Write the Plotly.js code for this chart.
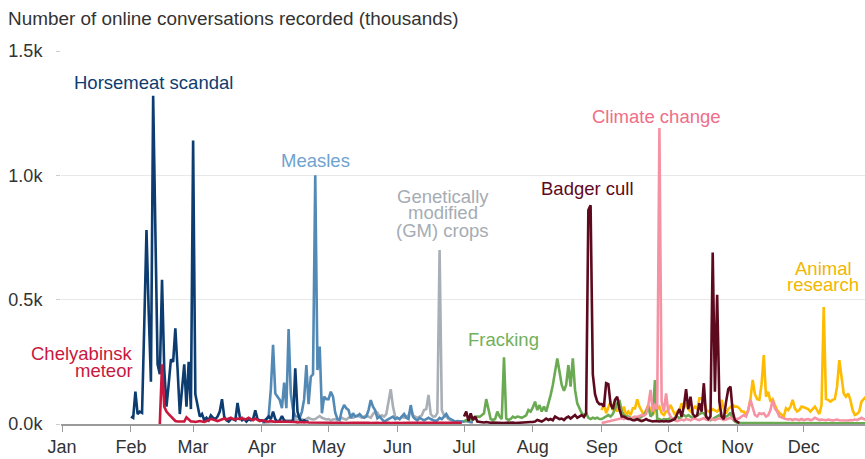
<!DOCTYPE html>
<html><head><meta charset="utf-8">
<script src="https://cdn.plot.ly/plotly-3.0.1.min.js"></script>
<style>html,body{margin:0;padding:0;background:#fff;}#chart{width:865px;height:459px;}</style>
</head><body><div id="chart"></div>
<script>
// ---------------- DATA (thousands of conversations per day) ----------------
const seriesNames = ['Horsemeat scandal','Chelyabinsk meteor','Measles','Genetically modified (GM) crops','Fracking','Badger cull','Climate change','Animal research'];
const monthLabels = ['Jan','Feb','Mar','Apr','May','Jun','Jul','Aug','Sep','Oct','Nov','Dec'];
const yTickValues = [0, 0.5, 1.0, 1.5];
const yTickLabels = ['0.0k','0.5k','1.0k','1.5k'];

const horsemeatStart = '2013-02-01';
const horsemeat = [
 0.03,0.025,0.13,0.04,0.05,0.045,0.40,0.78,0.45,0.17,1.32,0.72,0.24,0.20,0.58,0.22,0.07,0.16,0.26,0.25,0.385,0.22,0.04,0.14,0.24,0.07,0.25,0.06,
 1.14,0.12,0.07,0.03,0.04,0.015,0.025,0.015,0.035,0.025,0.02,0.03,0.05,0.10,0.03,0.015,0.01,0.02,0.02,0.015,0.085,0.03,0.015,0.02,0.01,0.02,0.015,0.02,0.055,0.02,0.015,
 0.015,0.01,0.02,0.03,0.02,0.05,0.02,0.01,0.015,0.032,0.015,0.01,0.01,0.01,0.015,0.224,0.05,0.02,0.01,0.015,0.01,0.01];

const meteorStart = '2013-02-14';
const meteor = [
 0,0.24,0.07,0.05,0.04,0.03,0.02,0.012,0.01,0.01,0.012,0.01,0.027,0.02,0.01,
 0.01,0.008,0.01,0.012,0.01,0.008,0.012,0.015,0.02,0.018,0.015,0.012,0.015,0.02,0.022,0.018,0.02,0.025,0.02,0.018,0.022,0.02,0.025,0.018,0.02,0.025,0.02,0.015,0.022,0.018,0.012,
 0.015,0.012,0.01,0.01,0.012,0.01,0.008,0.01,0.01,0.008,0.008,0.01,0.008,0.008,0.01,0.008,0.006,0.008,0.008,0.006,0.008,0.006,0.006,0.008,0.006,0.006,0.006,0.008,0.006,0.006,
 0.005,0.006,0.005,0.005,0.006,0.005,0.005,0.004,0.005,0.005,0.006,0.005,0.005,0.004,0.005,0.005,0.005,0.006,0.005,0.004,0.005,0.005,0.005,0.004,0.005,0.005,0.006,0.005,0.004,0.005,0.005,
 0.005,0.004,0.005,0.005,0.004,0.005,0.005,0.005,0.004,0.005,0.005,0.004,0.005,0.005,0.005,0.004,0.005,0.005,0.004,0.005,0.005,0.004,0.005,0.005,0.004,0.005,0.005,0.004,0.005,0.005];

const measlesStart = '2013-04-01';
const measles = [
 0.01,0.015,0.02,0.03,0.14,0.318,0.123,0.11,0.097,0.064,0.166,0.064,0.382,0.12,0.058,0.031,0.03,0.025,0.05,0.10,0.237,0.08,0.19,0.2,1.0,0.217,0.311,0.043,0.11,0.1,
 0.10,0.13,0.11,0.045,0.02,0.016,0.056,0.076,0.063,0.056,0.023,0.043,0.03,0.032,0.04,0.03,0.025,0.03,0.056,0.096,0.07,0.055,0.023,0.03,0.02,0.01,0.015,0.02,0.025,0.03,0.02,
 0.025,0.02,0.03,0.04,0.025,0.02,0.076,0.03,0.02,0.015,0.025,0.02,0.015,0.02,0.025,0.02,0.015,0.012,0.015,0.025,0.02,0.03,0.04,0.025,0.02,0.015,0.01,0.012,0.01,0.01,
 0.01,0.015,0.01,0.01,0.008];

const gmStart = '2013-04-01';
const gmCrops = [
 0.005,0.005,0.006,0.006,0.008,0.008,0.01,0.01,0.012,0.01,0.012,0.015,0.015,0.012,0.015,0.02,0.015,0.018,0.02,0.015,0.02,0.025,0.02,0.018,0.02,0.025,0.032,0.025,0.02,0.018,
 0.02,0.015,0.018,0.02,0.015,0.02,0.025,0.02,0.018,0.025,0.03,0.025,0.03,0.035,0.03,0.025,0.03,0.035,0.03,0.025,0.04,0.05,0.045,0.03,0.035,0.03,0.04,0.09,0.14,0.07,0.03,
 0.025,0.02,0.03,0.025,0.03,0.035,0.056,0.035,0.03,0.025,0.03,0.035,0.056,0.06,0.117,0.04,0.03,0.03,0.045,0.70,0.056,0.035,0.03,0.02,0.015,0.012,0.01,0.01,0.01,0.008,
 0.01,0.008,0.01,0.006,0.005];

const frackingStart = '2013-07-01';
const fracking = [
 0.01,0.016,0.015,0.02,0.018,0.029,0.03,0.029,0.035,0.043,0.10,0.06,0.02,0.016,0.02,0.05,0.03,0.02,0.268,0.022,0.016,0.02,0.03,0.025,0.03,0.028,0.025,0.03,0.035,0.056,0.05,
 0.067,0.09,0.056,0.076,0.05,0.07,0.05,0.08,0.116,0.157,0.217,0.264,0.21,0.157,0.134,0.157,0.237,0.15,0.264,0.137,0.083,0.06,0.043,0.035,0.043,0.025,0.02,0.025,0.022,0.025,0.02,
 0.02,0.025,0.03,0.036,0.03,0.04,0.06,0.083,0.097,0.05,0.036,0.03,0.03,0.025,0.02,0.025,0.02,0.025,0.03,0.035,0.05,0.07,0.03,0.04,0.177,0.02,0.02,0.015,0.02,0.018,
 0.02,0.023,0.02,0.025,0.03,0.023,0.03,0.036,0.03,0.036,0.03,0.025,0.03,0.035,0.04,0.045,0.043,0.03,0.02,0.015,0.02,0.025,0.03,0.036,0.03,0.025,0.03,0.035,0.046,0.02,0.01,
 0.005,0.004,0.004,0.003,0.004,0.003,0.004,0.004,0.003,0.004,0.003,0.004,0.004,0.003,0.004,0.003,0.004,0.004,0.003,0.004,0.004,0.003,0.004,0.003,0.004,0.004,0.003,0.004,0.003,0.004,
 0.004,0.003,0.004,0.004,0.003,0.004,0.003,0.004,0.004,0.003,0.004,0.004,0.003,0.004,0.003,0.004,0.004,0.003,0.004,0.003,0.004,0.004,0.003,0.004,0.004,0.003,0.004,0.003,0.004,0.004,0.003];

const badgerStart = '2013-07-01';
const badgerCull = [
 0.03,0.05,0.012,0.043,0.016,0.03,0.01,0.008,0.008,0.006,0.008,0.006,0.005,0.006,0.005,0.004,0.006,0.005,0.004,0.005,0.006,0.005,0.006,0.004,0.005,0.006,0.007,0.006,0.008,0.01,0.008,
 0.008,0.01,0.016,0.012,0.01,0.015,0.022,0.016,0.02,0.015,0.03,0.025,0.02,0.022,0.016,0.025,0.03,0.022,0.03,0.036,0.025,0.03,0.036,0.028,0.043,0.86,0.88,0.2,0.12,0.09,0.08,
 0.08,0.07,0.164,0.16,0.08,0.06,0.097,0.11,0.06,0.03,0.03,0.025,0.02,0.02,0.015,0.015,0.02,0.015,0.012,0.015,0.02,0.015,0.012,0.01,0.012,0.01,0.01,0.012,0.01,0.012,
 0.01,0.012,0.015,0.02,0.04,0.06,0.03,0.07,0.14,0.06,0.11,0.04,0.03,0.035,0.083,0.05,0.164,0.03,0.02,0.03,0.69,0.13,0.52,0.09,0.03,0.02,0.088,0.14,0.15,0.05,0.015,
 0.008,0.004];

const climateStart = '2013-09-01';
const climateChange = [
 0.004,0.006,0.01,0.01,0.012,0.014,0.016,0.018,0.02,0.023,0.02,0.023,0.025,0.022,0.025,0.03,0.028,0.032,0.036,0.034,0.04,0.076,0.137,0.05,0.08,0.06,1.19,0.09,0.05,0.123,
 0.05,0.03,0.02,0.015,0.012,0.015,0.018,0.015,0.02,0.018,0.015,0.02,0.022,0.018,0.016,0.02,0.023,0.018,0.016,0.02,0.018,0.016,0.02,0.023,0.02,0.016,0.018,0.02,0.025,0.02,0.016,
 0.02,0.023,0.03,0.036,0.03,0.056,0.097,0.063,0.036,0.03,0.043,0.04,0.043,0.03,0.035,0.056,0.097,0.063,0.05,0.03,0.025,0.023,0.02,0.018,0.02,0.016,0.02,0.018,0.016,0.02,
 0.016,0.018,0.02,0.016,0.018,0.025,0.02,0.016,0.018,0.016,0.015,0.018,0.016,0.014,0.016,0.018,0.015,0.014,0.016,0.015,0.014,0.016,0.015,0.018,0.016,0.02,0.025,0.02,0.018,0.02,0.02];

const animalStart = '2013-09-01';
const animalResearch = [
 0.056,0.083,0.043,0.067,0.09,0.056,0.083,0.05,0.076,0.043,0.07,0.036,0.05,0.036,0.063,0.063,0.099,0.07,0.05,0.036,0.056,0.076,0.056,0.036,0.056,0.06,0.07,0.043,0.036,0.05,
 0.056,0.076,0.056,0.036,0.05,0.056,0.083,0.063,0.083,0.06,0.05,0.06,0.07,0.06,0.103,0.103,0.097,0.06,0.05,0.05,0.06,0.055,0.05,0.06,0.097,0.06,0.043,0.06,0.07,0.076,0.07,
 0.07,0.063,0.05,0.05,0.036,0.056,0.1,0.177,0.12,0.1,0.097,0.16,0.277,0.11,0.13,0.09,0.1,0.076,0.056,0.045,0.036,0.03,0.063,0.056,0.07,0.097,0.063,0.05,0.056,0.07,
 0.067,0.063,0.06,0.05,0.06,0.07,0.056,0.04,0.076,0.47,0.1,0.097,0.09,0.097,0.1,0.15,0.257,0.177,0.123,0.11,0.123,0.097,0.056,0.036,0.04,0.05,0.09,0.1,0.11,0.1,0.09];

// ---------------- STYLE ----------------
const FONT = '"Liberation Sans", Arial, Helvetica, sans-serif';
function dailyDates(start, n) {
  const [y, m, d] = start.split('-').map(Number);
  const out = [];
  for (let i = 0; i < n; i++) {
    const dt = new Date(Date.UTC(y, m - 1, d + i));
    out.push(dt.toISOString().slice(0, 10));
  }
  return out;
}
function line(name, start, vals, color) {
  return {type: 'scatter', mode: 'lines', name: name, x: dailyDates(start, vals.length), y: vals,
          line: {color: color, width: 2.6}, hoverinfo: 'skip'};
}
// drawing order (first = bottom)
const traces = [
  line(seriesNames[3], gmStart, gmCrops, '#a9afb6'),
  line(seriesNames[2], measlesStart, measles, '#5289b5'),
  line(seriesNames[0], horsemeatStart, horsemeat, '#0c3c70'),
  line(seriesNames[1], meteorStart, meteor, '#c9173d'),
  line(seriesNames[7], animalStart, animalResearch, '#ffbb00'),
  line(seriesNames[4], frackingStart, fracking, '#6aaa52'),
  line(seriesNames[6], climateStart, climateChange, '#f592a3'),
  line(seriesNames[5], badgerStart, badgerCull, '#5d0a1e')
];

const W = 865, H = 459, ML = 61, MR = 0, MT = 51, MB = 35;
const px = x => (x - ML) / (W - ML - MR);
const py = y => (H - MB - y) / (H - MT - MB);
function lab(text, x, y, color, anchor) {
  return {text: text, xref: 'paper', yref: 'paper', x: px(x), y: py(y), xanchor: anchor || 'center', yanchor: 'middle',
          showarrow: false, font: {family: FONT, size: 18.5, color: color}};
}
const annotations = [
  lab('Horsemeat scandal', 153, 82, '#0c3c70'),
  lab('Chelyabinsk', 135, 353, '#c9173d', 'right'),
  lab('meteor', 135, 370, '#c9173d', 'right'),
  lab('Measles', 315.5, 160, '#6fa3cf'),
  lab('Genetically', 442.5, 196, '#a5acb4'),
  lab('modified', 442.5, 213, '#a5acb4'),
  lab('(GM) crops', 442.5, 230, '#a5acb4'),
  lab('Fracking', 503.7, 339.5, '#72b05a'),
  lab('Badger cull', 587.5, 188.5, '#5d0a1e'),
  lab('Climate change', 656.5, 116, '#f06e88'),
  lab('Animal', 823.5, 268, '#f2b600'),
  lab('research', 823.3, 284, '#f2b600')
];

const layout = {
  width: W, height: H,
  margin: {l: ML, r: MR, t: MT, b: MB, pad: 0},
  paper_bgcolor: '#ffffff', plot_bgcolor: '#ffffff',
  showlegend: false, hovermode: false,
  font: {family: FONT, size: 18, color: '#333333'},
  title: {text: 'Number of online conversations recorded (thousands)', xref: 'container', yref: 'container',
          x: 8 / W, xanchor: 'left', y: 1 - 18 / H, yanchor: 'middle',
          font: {family: FONT, size: 18.9, color: '#333333'}},
  xaxis: {type: 'date', range: ['2012-12-31 12:00', '2013-12-28 14:00'],
          tickvals: monthLabels.map((m, i) => '2013-' + String(i + 1).padStart(2, '0') + '-01'),
          ticktext: monthLabels,
          ticks: 'outside', ticklen: 6, tickwidth: 1, tickcolor: '#9a9a9a',
          showline: true, linecolor: '#9a9a9a', linewidth: 1.5, layer: 'below traces',
          showgrid: false, zeroline: false, fixedrange: true,
          tickfont: {family: FONT, size: 18, color: '#333333'}},
  yaxis: {range: [0, 1.5], tickvals: yTickValues, ticktext: yTickLabels,
          ticks: 'outside', ticklen: 4, tickwidth: 1, tickcolor: '#cccccc', ticklabelstandoff: 10,
          showline: false, showgrid: true, gridcolor: '#e8e8e8', gridwidth: 1, zeroline: false, fixedrange: true,
          layer: 'below traces',
          tickfont: {family: FONT, size: 18, color: '#333333'}},
  annotations: annotations
};
Plotly.newPlot('chart', traces, layout, {staticPlot: true, displayModeBar: false});
</script>
</body></html>
